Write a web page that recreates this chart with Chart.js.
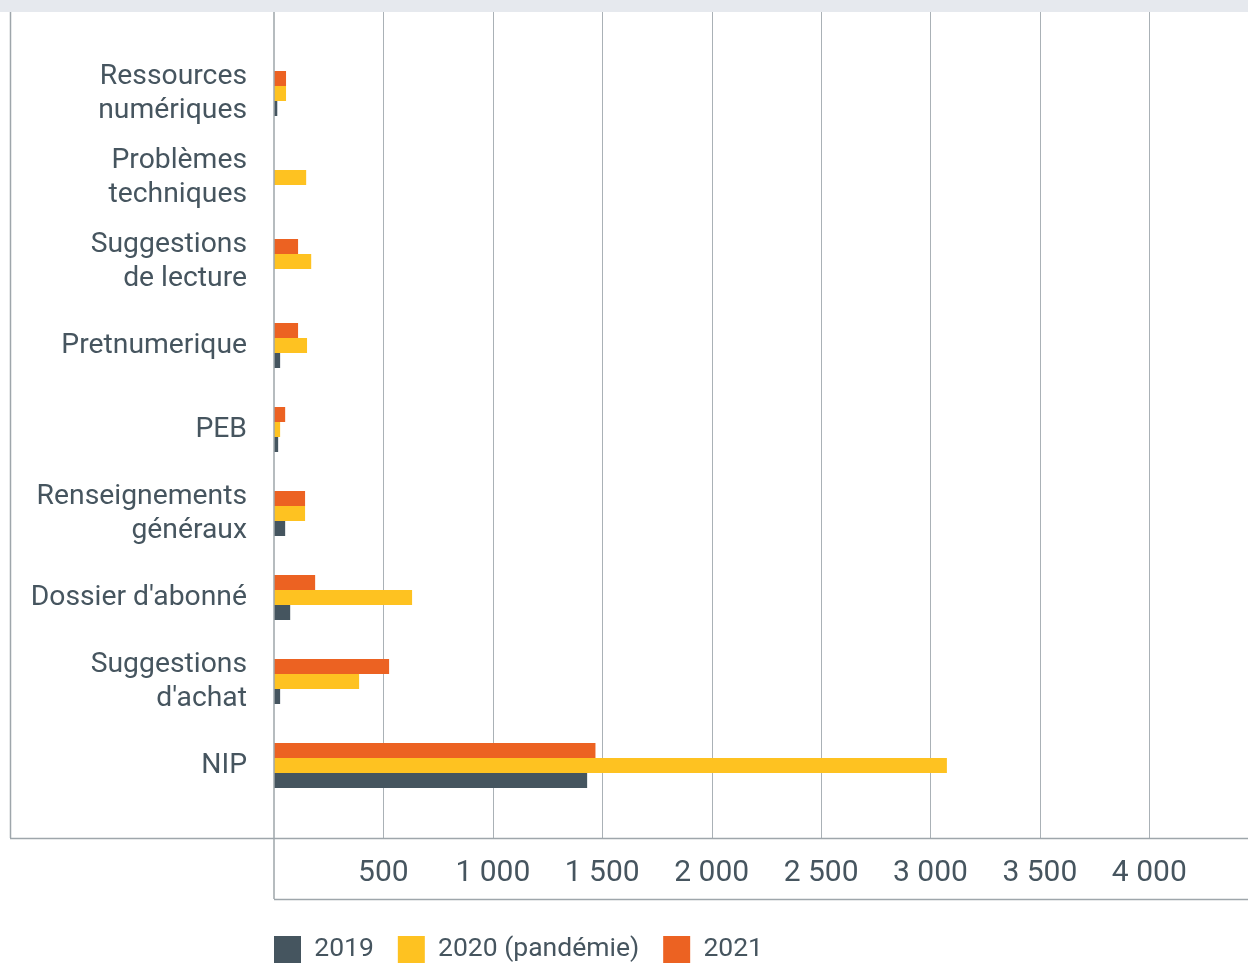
<!DOCTYPE html>
<html lang="fr">
<head>
<meta charset="utf-8">
<title>Demandes par catégorie</title>
<script src="https://cdn.jsdelivr.net/npm/chart.js@4.4.1/dist/chart.umd.min.js"></script>
<style>
  html, body { margin: 0; padding: 0; background: #fff; overflow: hidden; }
  #zone { position: absolute; left: 0; top: 0; width: 1248px; height: 964px; }
  #bandeau { position: absolute; left: 0; top: 0; width: 1248px; height: 12px; background: #e6e9ee; }
</style>
</head>
<body>
<div id="zone"><canvas id="graphique"></canvas></div>
<div id="bandeau"></div>
<script>
// Catégories (de haut en bas)
const categories = [
    ['Ressources', 'numériques'],
    ['Problèmes', 'techniques'],
    ['Suggestions', 'de lecture'],
    'Pretnumerique',
    'PEB',
    ['Renseignements', 'généraux'],
    "Dossier d'abonné",
    ['Suggestions', "d'achat"],
    'NIP'
];

// Valeurs
const valeurs2019 = [15, 0, 0, 28, 19, 51, 74, 28, 1431];
const valeurs2020 = [55, 147, 170, 151, 28, 142, 631, 389, 3075];
const valeurs2021 = [55, 0, 110, 110, 51, 142, 188, 526, 1469];

// Graduations de l'axe horizontal
const graduations = [500, 1000, 1500, 2000, 2500, 3000, 3500, 4000];

const couleurTexte = '#46555f';
const couleurGrille = '#aab1b6';
const couleurAxe = '#9ea6ab';

// "1000" -> "1 000"
function formatNombre(v) {
    return String(v).replace(/\B(?=(\d{3})+(?!\d))/g, ' ');
}

// Cadre autour du graphique (lignes de tableau)
const cadre = {
    id: 'cadre',
    beforeDraw(chart) {
        // la légende commence sous l'axe vertical
        chart.legend.left = chart.chartArea.left - chart.legend.options.labels.padding;
    },
    beforeDatasetsDraw(chart) {
        const ctx = chart.ctx;
        const x = chart.scales.x;
        ctx.save();
        ctx.strokeStyle = couleurGrille;
        ctx.lineWidth = 1;
        x.ticks.forEach(t => {
            const px = Math.round(x.getPixelForValue(t.value)) + 0.5;
            ctx.beginPath();
            ctx.moveTo(px, 12);
            ctx.lineTo(px, 838);
            ctx.stroke();
        });
        ctx.restore();
    },
    afterDraw(chart) {
        const ctx = chart.ctx;
        const gauche = chart.chartArea.left;
        const droite = chart.width;
        ctx.save();
        ctx.strokeStyle = couleurAxe;
        ctx.lineWidth = 1.5;
        ctx.beginPath();
        ctx.moveTo(gauche, 12); ctx.lineTo(gauche, 899);   // axe vertical
        ctx.moveTo(10.5, 12); ctx.lineTo(10.5, 838);        // bord gauche
        ctx.moveTo(10, 838.5); ctx.lineTo(droite, 838.5);   // axe horizontal
        ctx.moveTo(gauche, 899.5); ctx.lineTo(droite, 899.5); // bas des graduations
        ctx.stroke();
        ctx.restore();
    }
};

const ctx = document.getElementById('graphique').getContext('2d');

new Chart(ctx, {
    type: 'bar',
    data: {
        labels: categories,
        datasets: [
            { label: '2021', data: valeurs2021, backgroundColor: '#ec6222' },
            { label: '2020 (pandémie)', data: valeurs2020, backgroundColor: '#fec221' },
            { label: '2019', data: valeurs2019, backgroundColor: '#45555f' }
        ]
    },
    options: {
        indexAxis: 'y',
        responsive: true,
        maintainAspectRatio: false,
        animation: false,
        layout: { padding: { left: 10, top: 51.5, right: 0, bottom: 0 } },
        datasets: {
            bar: { barPercentage: 1, categoryPercentage: 45 / 84, borderWidth: 0 }
        },
        scales: {
            x: {
                min: 0,
                max: 4451,
                afterBuildTicks: scale => { scale.ticks = graduations.map(v => ({ value: v })); },
                afterFit: scale => { scale.height = 104.5; },
                grid: { display: false, drawTicks: false },
                border: { display: false },
                ticks: {
                    padding: 47.5,
                    color: couleurTexte,
                    font: { family: 'Roboto', size: 30 },
                    maxRotation: 0,
                    autoSkip: false,
                    callback: v => formatNombre(v)
                }
            },
            y: {
                afterFit: scale => { scale.width = 264; },
                grid: { display: false, drawTicks: false },
                border: { display: false },
                ticks: {
                    padding: 27,
                    color: couleurTexte,
                    font: { family: 'Roboto', size: 28.3, lineHeight: 1.2 },
                    autoSkip: false
                }
            }
        },
        plugins: {
            legend: {
                position: 'bottom',
                align: 'start',
                reverse: true,
                maxHeight: 52,
                labels: {
                    boxWidth: 27,
                    boxHeight: 27,
                    padding: 24,
                    color: couleurTexte,
                    font: { family: 'Roboto', size: 26.5 }
                }
            },
            tooltip: { enabled: false }
        }
    },
    plugins: [cadre]
});
</script>
</body>
</html>
